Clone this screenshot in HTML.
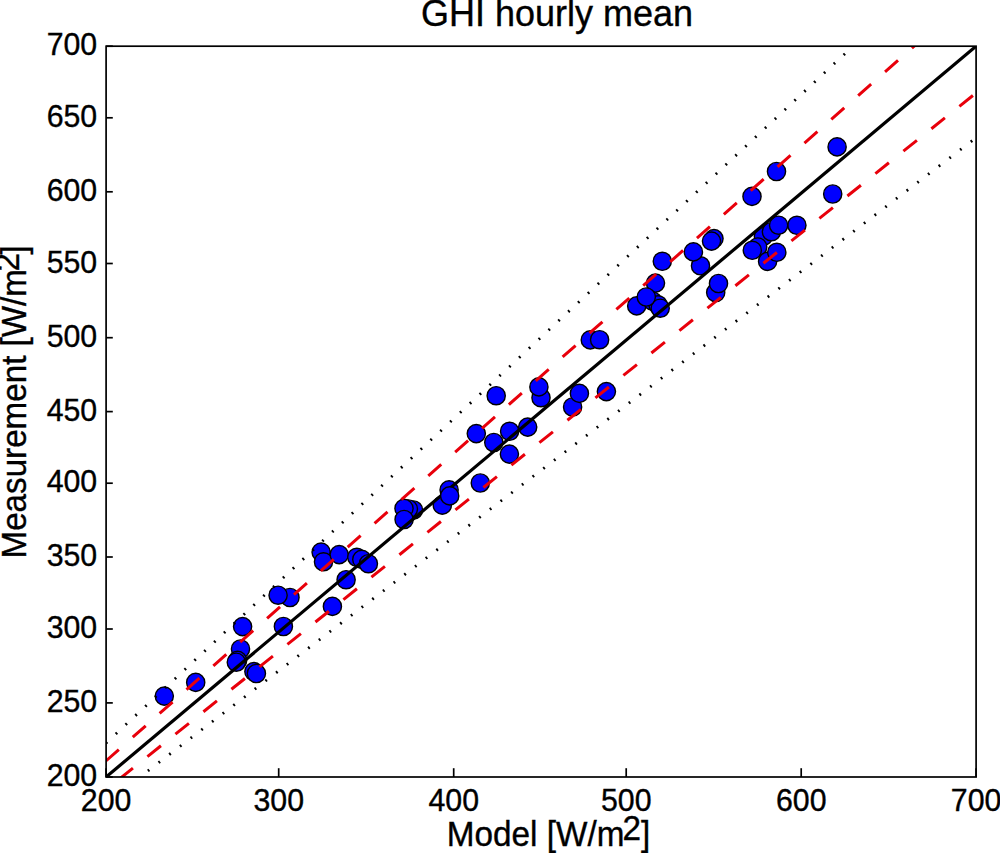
<!DOCTYPE html>
<html><head><meta charset="utf-8"><style>
html,body{margin:0;padding:0;background:#fff;}
svg{display:block;}
text{font-family:"Liberation Sans",sans-serif;fill:#000;stroke:#000;stroke-width:0.35px;}
</style></head><body>
<svg width="1000" height="853" viewBox="0 0 1000 853">
<defs><clipPath id="ax"><rect x="106.1" y="46.2" width="870.0" height="730.8"/></clipPath></defs>
<rect width="1000" height="853" fill="#fff"/>
<g fill="#0000ff" stroke="#000" stroke-width="1.4">
<circle cx="164.3" cy="696.1" r="9.1"/>
<circle cx="195.7" cy="682.4" r="9.1"/>
<circle cx="242.6" cy="626.6" r="9.1"/>
<circle cx="240.5" cy="649.0" r="9.1"/>
<circle cx="237.6" cy="660.4" r="9.1"/>
<circle cx="236.3" cy="662.2" r="9.1"/>
<circle cx="253.9" cy="671.6" r="9.1"/>
<circle cx="256.4" cy="673.5" r="9.1"/>
<circle cx="283.4" cy="626.5" r="9.1"/>
<circle cx="290.0" cy="597.5" r="9.1"/>
<circle cx="278.1" cy="595.2" r="9.1"/>
<circle cx="332.4" cy="606.4" r="9.1"/>
<circle cx="346.1" cy="579.7" r="9.1"/>
<circle cx="321.1" cy="552.1" r="9.1"/>
<circle cx="323.5" cy="561.8" r="9.1"/>
<circle cx="339.2" cy="554.6" r="9.1"/>
<circle cx="356.8" cy="557.3" r="9.1"/>
<circle cx="361.8" cy="559.4" r="9.1"/>
<circle cx="368.4" cy="563.7" r="9.1"/>
<circle cx="413.5" cy="510.0" r="9.1"/>
<circle cx="408.4" cy="509.0" r="9.1"/>
<circle cx="404.0" cy="508.4" r="9.1"/>
<circle cx="404.1" cy="519.5" r="9.1"/>
<circle cx="449.1" cy="489.9" r="9.1"/>
<circle cx="442.3" cy="505.1" r="9.1"/>
<circle cx="476.3" cy="433.6" r="9.1"/>
<circle cx="493.8" cy="442.5" r="9.1"/>
<circle cx="509.6" cy="431.3" r="9.1"/>
<circle cx="527.7" cy="427.1" r="9.1"/>
<circle cx="509.4" cy="454.1" r="9.1"/>
<circle cx="480.3" cy="483.0" r="9.1"/>
<circle cx="496.2" cy="395.7" r="9.1"/>
<circle cx="541.0" cy="397.7" r="9.1"/>
<circle cx="538.9" cy="386.9" r="9.1"/>
<circle cx="590.3" cy="339.9" r="9.1"/>
<circle cx="599.6" cy="339.7" r="9.1"/>
<circle cx="572.6" cy="407.0" r="9.1"/>
<circle cx="579.4" cy="393.4" r="9.1"/>
<circle cx="606.4" cy="391.6" r="9.1"/>
<circle cx="662.3" cy="261.3" r="9.1"/>
<circle cx="655.5" cy="283.1" r="9.1"/>
<circle cx="636.7" cy="305.9" r="9.1"/>
<circle cx="652.7" cy="301.2" r="9.1"/>
<circle cx="658.0" cy="304.8" r="9.1"/>
<circle cx="660.2" cy="308.2" r="9.1"/>
<circle cx="646.3" cy="297.0" r="9.1"/>
<circle cx="700.5" cy="265.8" r="9.1"/>
<circle cx="693.4" cy="251.9" r="9.1"/>
<circle cx="714.0" cy="238.6" r="9.1"/>
<circle cx="711.5" cy="241.1" r="9.1"/>
<circle cx="715.7" cy="292.5" r="9.1"/>
<circle cx="718.5" cy="283.5" r="9.1"/>
<circle cx="796.9" cy="225.3" r="9.1"/>
<circle cx="763.4" cy="236.4" r="9.1"/>
<circle cx="771.4" cy="231.7" r="9.1"/>
<circle cx="778.6" cy="225.2" r="9.1"/>
<circle cx="757.7" cy="247.0" r="9.1"/>
<circle cx="752.3" cy="250.3" r="9.1"/>
<circle cx="767.6" cy="261.4" r="9.1"/>
<circle cx="776.8" cy="252.3" r="9.1"/>
<circle cx="752.0" cy="196.4" r="9.1"/>
<circle cx="776.5" cy="171.5" r="9.1"/>
<circle cx="837.1" cy="146.9" r="9.1"/>
<circle cx="832.7" cy="194.0" r="9.1"/>
</g>
<g clip-path="url(#ax)" fill="none">
<path d="M106.10,777.00 L991.41,33.34" stroke="#000" stroke-width="3.2"/>
<path d="M52.14,808.53 L1079.84,-100.49" stroke="#e8000b" stroke-width="3.0" stroke-dasharray="17.3 18.570"/>
<path d="M63.43,823.82 L1136.64,-35.60" stroke="#e8000b" stroke-width="3.0" stroke-dasharray="17.3 18.570"/>
<path d="M66.60,779.86 L1066.95,-153.42" stroke="#000" stroke-width="2.8" stroke-dasharray="1.8 11.652"/>
<path d="M137.20,779.03 L1224.19,-51.92" stroke="#000" stroke-width="2.8" stroke-dasharray="1.8 11.652"/>
</g>
<g fill="#0000ff" stroke="#000" stroke-width="1.4">
<circle cx="449.7" cy="495.9" r="9.1"/>
</g>
<g stroke="#000" stroke-width="1.7" fill="none">
<rect x="106.1" y="46.2" width="870.0" height="730.8"/>
<line x1="106.1" y1="777.0" x2="106.1" y2="768.2"/>
<line x1="278.7" y1="777.0" x2="278.7" y2="768.2"/>
<line x1="453.7" y1="777.0" x2="453.7" y2="768.2"/>
<line x1="626.2" y1="777.0" x2="626.2" y2="768.2"/>
<line x1="801.2" y1="777.0" x2="801.2" y2="768.2"/>
<line x1="976.1" y1="777.0" x2="976.1" y2="768.2"/>
<line x1="106.1" y1="46.2" x2="112.8" y2="46.2"/>
<line x1="106.1" y1="117.8" x2="112.8" y2="117.8"/>
<line x1="106.1" y1="191.8" x2="112.8" y2="191.8"/>
<line x1="106.1" y1="263.5" x2="112.8" y2="263.5"/>
<line x1="106.1" y1="337.7" x2="112.8" y2="337.7"/>
<line x1="106.1" y1="411.6" x2="112.8" y2="411.6"/>
<line x1="106.1" y1="483.2" x2="112.8" y2="483.2"/>
<line x1="106.1" y1="557.0" x2="112.8" y2="557.0"/>
<line x1="106.1" y1="629.0" x2="112.8" y2="629.0"/>
<line x1="106.1" y1="702.9" x2="112.8" y2="702.9"/>
<line x1="106.1" y1="777.0" x2="112.8" y2="777.0"/>
</g>
<g font-size="30.3px">
<text transform="translate(106.1,810.7) scale(1,1.02)" text-anchor="middle">200</text>
<text transform="translate(278.7,810.7) scale(1,1.02)" text-anchor="middle">300</text>
<text transform="translate(453.7,810.7) scale(1,1.02)" text-anchor="middle">400</text>
<text transform="translate(626.2,810.7) scale(1,1.02)" text-anchor="middle">500</text>
<text transform="translate(801.2,810.7) scale(1,1.02)" text-anchor="middle">600</text>
<text transform="translate(976.1,810.7) scale(1,1.02)" text-anchor="middle">700</text>
<text transform="translate(97.2,55.40) scale(1,1.02)" text-anchor="end">700</text>
<text transform="translate(97.2,127.00) scale(1,1.02)" text-anchor="end">650</text>
<text transform="translate(97.2,201.00) scale(1,1.02)" text-anchor="end">600</text>
<text transform="translate(97.2,272.70) scale(1,1.02)" text-anchor="end">550</text>
<text transform="translate(97.2,346.90) scale(1,1.02)" text-anchor="end">500</text>
<text transform="translate(97.2,420.80) scale(1,1.02)" text-anchor="end">450</text>
<text transform="translate(97.2,492.40) scale(1,1.02)" text-anchor="end">400</text>
<text transform="translate(97.2,566.20) scale(1,1.02)" text-anchor="end">350</text>
<text transform="translate(97.2,638.20) scale(1,1.02)" text-anchor="end">300</text>
<text transform="translate(97.2,712.10) scale(1,1.02)" text-anchor="end">250</text>
<text transform="translate(97.2,786.20) scale(1,1.02)" text-anchor="end">200</text>
</g>
<text transform="translate(421,25.9) scale(1,1.04)" font-size="36.0px">GHI hourly mean</text>
<text transform="translate(446.8,846.2) scale(1,1.03)" font-size="33.3px">Model [W/m<tspan dx="-1.8" dy="-6.4">2</tspan><tspan dy="6.4">]</tspan></text>
<text transform="translate(25.6,558.5) rotate(-90) scale(1,1.035)" font-size="33.2px">Measurement [W/m<tspan dx="-2.5" dy="-6.0">2</tspan><tspan dx="-1.5" dy="6.0">]</tspan></text>
</svg>
</body></html>
